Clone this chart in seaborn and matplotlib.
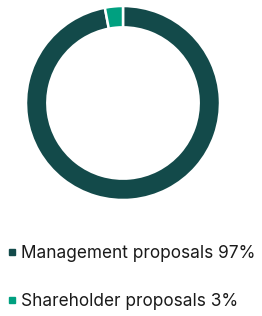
import matplotlib
matplotlib.use("Agg")
import matplotlib.pyplot as plt
from matplotlib.lines import Line2D
import seaborn as sns

categories = ["Management proposals", "Shareholder proposals"]
values = [97, 3]
colors = ["#134A4A", "#00A080"]

sns.set_theme(style="white")
plt.rcParams['font.family'] = ['Inter', 'DejaVu Sans']

W, H = 262, 316
fig = plt.figure(figsize=(W / 100, H / 100), dpi=100)
cx, cy, r = 123, 103, 97
ax = fig.add_axes([(cx - r) / W, (H - cy - r) / H, 2 * r / W, 2 * r / H])
ax.pie(values, colors=colors, startangle=90, counterclock=False, radius=1,
       wedgeprops=dict(width=0.22, edgecolor="white", linewidth=1.8))
ax.set_xlim(-1, 1)
ax.set_ylim(-1, 1)
ax.set_aspect("equal")
ax.axis("off")

handles = [Line2D([0], [0], marker="s", linestyle="none", markersize=3.8,
                  markerfacecolor=c, markeredgecolor=c) for c in colors]
labels = [f"{c} {v}%" for c, v in zip(categories, values)]
fig.legend(handles, labels, loc="upper left", bbox_to_anchor=(3.0 / W, 1 - 242 / H),
           frameon=False, fontsize=12.4, labelspacing=1.8, handlelength=0.6,
           handletextpad=0.25, borderpad=0.2, borderaxespad=0.0,
           labelcolor="#1a1a1a")

fig.savefig("out.png", dpi=100)
